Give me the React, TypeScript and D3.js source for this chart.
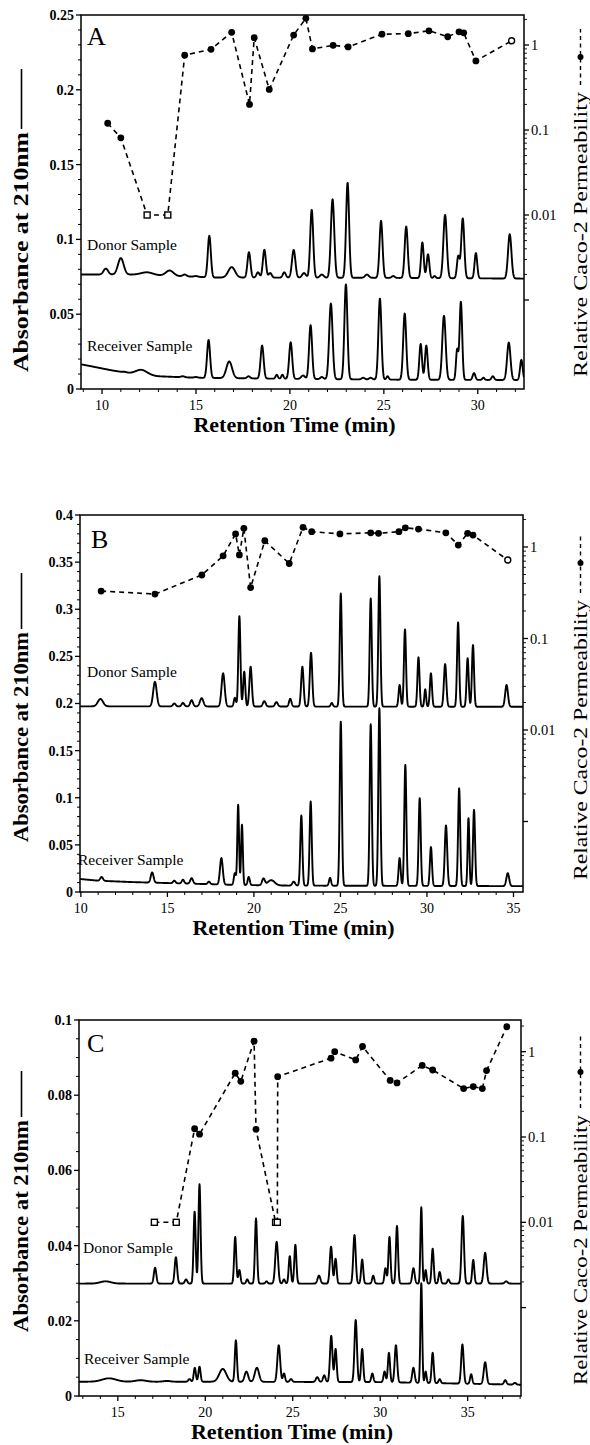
import React from "react";
import * as d3 from "d3";

type Pt = [number, number];
type Peak = [number, number, number]; // retention time, apex absorbance, width (min)

// ================= Panel A =================
const aDonorBase: Pt[] = [[8.88, 0.0765], [12, 0.0765], [16, 0.0745], [25, 0.0743], [32.46, 0.0738]];
const aDonorPeaks: Peak[] = [
  [10.2, 0.0805, 0.12], [11.0, 0.0875, 0.15], [12.4, 0.078, 0.3], [13.6, 0.0792, 0.2],
  [14.4, 0.0765, 0.1], [15.0, 0.0755, 0.1], [15.71, 0.1024, 0.08], [16.9, 0.0815, 0.18],
  [17.82, 0.0914, 0.08], [18.3, 0.078, 0.08], [18.64, 0.093, 0.08], [18.95, 0.0775, 0.08],
  [19.7, 0.078, 0.08], [20.2, 0.093, 0.09], [20.75, 0.0775, 0.1], [21.16, 0.1197, 0.08],
  [21.7, 0.0765, 0.1], [22.27, 0.1268, 0.09], [23.07, 0.1378, 0.08], [24.1, 0.0765, 0.1],
  [24.85, 0.1124, 0.08], [25.5, 0.0755, 0.08], [26.19, 0.1086, 0.08], [27.05, 0.098, 0.07],
  [27.35, 0.09, 0.07], [27.7, 0.0755, 0.06], [28.26, 0.1164, 0.09], [28.96, 0.0887, 0.07],
  [29.2, 0.114, 0.08], [29.9, 0.0909, 0.07], [31.7, 0.1035, 0.09],
];
const aRecvBase: Pt[] = [[8.88, 0.0165], [9.5, 0.015], [10.5, 0.0125], [11.5, 0.0105], [13, 0.0085], [15, 0.0075], [20, 0.0068], [26, 0.0062], [32.46, 0.006]];
const aRecvPeaks: Peak[] = [
  [11.2, 0.0115, 0.1], [12.1, 0.0128, 0.3], [14.3, 0.0085, 0.1], [15.0, 0.008, 0.1],
  [15.67, 0.0327, 0.08], [16.77, 0.0184, 0.15], [17.8, 0.0085, 0.08], [18.52, 0.029, 0.08],
  [19.3, 0.0095, 0.06], [19.6, 0.0095, 0.06], [20.04, 0.0312, 0.08], [20.7, 0.009, 0.1],
  [21.1, 0.0427, 0.08], [21.7, 0.008, 0.08], [22.18, 0.0571, 0.09], [22.98, 0.0699, 0.08],
  [23.9, 0.0075, 0.08], [24.3, 0.0075, 0.08], [24.79, 0.0604, 0.08], [25.2, 0.0085, 0.06],
  [26.11, 0.0504, 0.08], [26.96, 0.0301, 0.07], [27.26, 0.029, 0.07], [28.2, 0.0489, 0.09],
  [28.9, 0.026, 0.06], [29.1, 0.0582, 0.07], [29.8, 0.0106, 0.07], [30.3, 0.0075, 0.06],
  [30.8, 0.0085, 0.07], [31.65, 0.031, 0.09], [32.32, 0.0195, 0.07],
];
const aPermTime = [10.3, 11.0, 12.4, 13.5, 14.4, 15.8, 16.9, 17.85, 18.1, 18.9, 20.2, 20.85, 21.2, 22.3, 23.1, 24.9, 26.3, 27.4, 28.4, 29.0, 29.25, 29.9, 31.8];
const aPermValue = [0.12, 0.081, 0.01, 0.01, 0.76, 0.89, 1.41, 0.2, 1.22, 0.3, 1.31, 2.06, 0.9, 0.99, 0.95, 1.34, 1.36, 1.47, 1.25, 1.43, 1.39, 0.65, 1.12];
const aPermMark = ["f", "f", "s", "s", "f", "f", "f", "f", "f", "f", "f", "f", "f", "f", "f", "f", "f", "f", "f", "f", "f", "f", "o"];

// ================= Panel B =================
const bDonorBase: Pt[] = [[9.95, 0.197], [35.55, 0.1965]];
const bDonorPeaks: Peak[] = [
  [11.13, 0.2048, 0.15], [14.28, 0.223, 0.1], [15.4, 0.2, 0.08], [15.9, 0.2005, 0.08],
  [16.4, 0.2035, 0.08], [16.98, 0.2056, 0.1], [18.22, 0.232, 0.09], [18.9, 0.206, 0.06],
  [19.16, 0.2927, 0.06], [19.44, 0.2337, 0.06], [19.81, 0.239, 0.07], [20.6, 0.2025, 0.08],
  [21.3, 0.2015, 0.08], [22.1, 0.205, 0.07], [22.8, 0.239, 0.07], [23.3, 0.2538, 0.07],
  [24.5, 0.2005, 0.06], [25.02, 0.3167, 0.06], [26.75, 0.3114, 0.06], [27.25, 0.335, 0.06],
  [28.42, 0.2196, 0.06], [28.73, 0.2786, 0.06], [29.51, 0.249, 0.06], [29.9, 0.215, 0.05],
  [30.23, 0.232, 0.06], [31.05, 0.2418, 0.07], [31.8, 0.286, 0.06], [32.35, 0.248, 0.06],
  [32.66, 0.262, 0.06], [34.6, 0.2196, 0.08],
];
const bRecvBase: Pt[] = [[9.95, 0.0138], [11, 0.012], [13, 0.0105], [16, 0.009], [19, 0.0075], [22, 0.0068], [35.55, 0.0062]];
const bRecvPeaks: Peak[] = [
  [11.2, 0.0159, 0.08], [14.12, 0.0208, 0.08], [15.4, 0.012, 0.07], [15.9, 0.013, 0.07],
  [16.4, 0.0146, 0.08], [17.4, 0.011, 0.07], [18.12, 0.036, 0.08], [18.9, 0.02, 0.06],
  [19.09, 0.0925, 0.05], [19.31, 0.0713, 0.05], [19.7, 0.016, 0.06], [20.55, 0.014, 0.08],
  [21.0, 0.0125, 0.2], [22.3, 0.011, 0.08], [22.74, 0.0812, 0.06], [23.28, 0.096, 0.06],
  [24.4, 0.015, 0.06], [25.02, 0.1808, 0.06], [26.75, 0.178, 0.06], [27.25, 0.195, 0.06],
  [28.42, 0.036, 0.06], [28.75, 0.1349, 0.06], [29.58, 0.0996, 0.06], [30.23, 0.0477, 0.06],
  [31.1, 0.0706, 0.07], [31.86, 0.11, 0.06], [32.4, 0.0784, 0.05], [32.72, 0.0872, 0.06],
  [34.67, 0.02, 0.08],
];
const bPermTime = [11.17, 14.28, 16.99, 18.22, 18.94, 19.16, 19.42, 19.81, 20.63, 22.04, 22.84, 23.34, 24.97, 26.75, 27.2, 28.38, 28.75, 29.51, 31.09, 31.81, 32.35, 32.66, 34.67];
const bPermValue = [0.33, 0.306, 0.494, 0.8, 1.39, 0.82, 1.6, 0.36, 1.17, 0.66, 1.64, 1.47, 1.39, 1.43, 1.41, 1.47, 1.62, 1.57, 1.43, 1.05, 1.41, 1.35, 0.72];
const bPermMark = ["f", "f", "f", "f", "f", "f", "f", "f", "f", "f", "f", "f", "f", "f", "f", "f", "f", "f", "f", "f", "f", "f", "o"];

// ================= Panel C =================
const cDonorBase: Pt[] = [[12.78, 0.0299], [38.05, 0.0299]];
const cDonorPeaks: Peak[] = [
  [14.3, 0.0305, 0.3], [17.13, 0.0341, 0.07], [18.32, 0.0369, 0.07], [18.9, 0.031, 0.07],
  [19.39, 0.049, 0.06], [19.67, 0.0563, 0.06], [21.71, 0.0423, 0.06], [21.95, 0.0335, 0.06],
  [22.4, 0.031, 0.06], [22.9, 0.0472, 0.06], [23.5, 0.0305, 0.06], [24.08, 0.041, 0.08],
  [24.5, 0.031, 0.06], [24.83, 0.0372, 0.06], [25.15, 0.0402, 0.06], [26.5, 0.032, 0.08],
  [27.19, 0.0397, 0.07], [27.45, 0.0365, 0.06], [28.53, 0.0428, 0.07], [28.97, 0.0363, 0.06],
  [29.6, 0.032, 0.06], [30.3, 0.034, 0.06], [30.53, 0.0423, 0.06], [30.96, 0.0452, 0.06],
  [31.9, 0.034, 0.07], [32.35, 0.0502, 0.05], [32.6, 0.0335, 0.05], [33.0, 0.0392, 0.06],
  [33.4, 0.033, 0.06], [33.9, 0.031, 0.06], [34.72, 0.0479, 0.07], [35.32, 0.0362, 0.06],
  [36.0, 0.0381, 0.08], [37.2, 0.0305, 0.08],
];
const cRecvBase: Pt[] = [[12.78, 0.0038], [20, 0.0038], [30, 0.0037], [38.05, 0.003]];
const cRecvPeaks: Peak[] = [
  [14.5, 0.0047, 0.4], [16.3, 0.0042, 0.3], [17.8, 0.004, 0.2], [19.1, 0.0045, 0.07],
  [19.4, 0.0075, 0.06], [19.67, 0.0078, 0.06], [21.0, 0.0072, 0.2], [21.75, 0.0148, 0.06],
  [22.35, 0.0065, 0.1], [22.95, 0.0075, 0.12], [24.2, 0.0135, 0.08], [24.5, 0.006, 0.06],
  [24.9, 0.0045, 0.07], [26.4, 0.005, 0.08], [26.8, 0.0055, 0.07], [27.2, 0.016, 0.07],
  [27.45, 0.0125, 0.06], [28.6, 0.0202, 0.07], [28.97, 0.0125, 0.06], [29.55, 0.006, 0.06],
  [30.25, 0.0065, 0.06], [30.5, 0.0115, 0.06], [30.9, 0.0135, 0.07], [31.9, 0.0075, 0.07],
  [32.35, 0.03, 0.05], [32.6, 0.0065, 0.05], [33.0, 0.0115, 0.06], [33.4, 0.0045, 0.06],
  [34.7, 0.0137, 0.07], [35.2, 0.0058, 0.06], [36.0, 0.009, 0.08], [37.15, 0.0042, 0.07],
  [37.7, 0.0035, 0.07],
];
const cPermTime = [17.09, 18.34, 19.39, 19.67, 21.71, 22.03, 22.79, 22.9, 24.02, 24.12, 24.14, 27.19, 27.4, 28.6, 28.99, 30.57, 30.96, 32.4, 33.0, 34.77, 35.32, 35.84, 36.08, 37.24];
const cPermValue = [0.01, 0.01, 0.125, 0.108, 0.56, 0.45, 1.33, 0.123, 0.01, 0.01, 0.51, 0.84, 1.0, 0.8, 1.15, 0.46, 0.43, 0.69, 0.61, 0.37, 0.39, 0.37, 0.6, 1.96];
const cPermMark = ["s", "s", "f", "f", "f", "f", "f", "f", "s", "s", "f", "f", "f", "f", "f", "f", "f", "f", "f", "f", "f", "f", "f", "f"];

// ================= Axis ticks =================
const aYTicks = [0, 0.05, 0.1, 0.15, 0.2, 0.25];
const bYTicks = [0, 0.05, 0.1, 0.15, 0.2, 0.25, 0.3, 0.35, 0.4];
const cYTicks = [0, 0.02, 0.04, 0.06, 0.08, 0.1];
const aXTicks = [10, 15, 20, 25, 30];
const bXTicks = [10, 15, 20, 25, 30, 35];
const cXTicks = [15, 20, 25, 30, 35];
const permTickValues = [1, 0.1, 0.01];
const permTickLabels = ["1", "0.1", "0.01"];

const FONT = "'Liberation Serif', 'Times New Roman', serif";

function buildTrace(base: Pt[], peaks: Peak[], dom: [number, number]): Pt[] {
  const bs = d3.scaleLinear().domain(base.map((d) => d[0])).range(base.map((d) => d[1])).clamp(true);
  const ts = d3.range(dom[0], dom[1] + 1e-9, 0.01);
  return ts.map((t) => {
    let v = bs(t);
    for (const [c, h, w] of peaks) {
      const z = (t - c) / w;
      if (Math.abs(z) < 6) v += (h - bs(c)) * Math.exp(-0.5 * z * z);
    }
    return [t, v] as Pt;
  });
}

interface PanelCfg {
  id: string;
  letter: string;
  frame: { l: number; r: number; t: number; b: number };
  xDomain: [number, number];
  yDomain: [number, number];
  yTicks: number[];
  yMinor: number;
  xTicks: number[];
  logOne: number;
  logDecade: number;
  donorBase: Pt[]; donorPeaks: Peak[];
  recvBase: Pt[]; recvPeaks: Peak[];
  permT: number[]; permV: number[]; permM: string[];
  letterPos: [number, number];
  donorPos: [number, number];
  recvPos: [number, number];
  leftTitle: { bottom: number; len: number; line: number };
  rightTitle: { bottom: number; len: number; legend: number };
}

const panels: PanelCfg[] = [
  {
    id: "A", letter: "A",
    frame: { l: 81, r: 524, t: 15, b: 389 },
    xDomain: [8.88, 32.46], yDomain: [0, 0.25], yTicks: aYTicks, yMinor: 0.01, xTicks: aXTicks,
    logOne: 45, logDecade: 85,
    donorBase: aDonorBase, donorPeaks: aDonorPeaks, recvBase: aRecvBase, recvPeaks: aRecvPeaks,
    permT: aPermTime, permV: aPermValue, permM: aPermMark,
    letterPos: [87, 45], donorPos: [87, 250], recvPos: [87, 351],
    leftTitle: { bottom: 372, len: 240, line: 60 },
    rightTitle: { bottom: 377, len: 285, legend: 56 },
  },
  {
    id: "B", letter: "B",
    frame: { l: 80, r: 523, t: 515, b: 892 },
    xDomain: [9.95, 35.55], yDomain: [0, 0.4], yTicks: bYTicks, yMinor: 0.01, xTicks: bXTicks,
    logOne: 547, logDecade: 91.5,
    donorBase: bDonorBase, donorPeaks: bDonorPeaks, recvBase: bRecvBase, recvPeaks: bRecvPeaks,
    permT: bPermTime, permV: bPermValue, permM: bPermMark,
    letterPos: [91, 548], donorPos: [87, 677], recvPos: [78, 865],
    leftTitle: { bottom: 842, len: 210, line: 56 },
    rightTitle: { bottom: 880, len: 280, legend: 60 },
  },
  {
    id: "C", letter: "C",
    frame: { l: 79, r: 521, t: 1020, b: 1396 },
    xDomain: [12.78, 38.05], yDomain: [0, 0.1], yTicks: cYTicks, yMinor: 0.005, xTicks: cXTicks,
    logOne: 1051.7, logDecade: 85.3,
    donorBase: cDonorBase, donorPeaks: cDonorPeaks, recvBase: cRecvBase, recvPeaks: cRecvPeaks,
    permT: cPermTime, permV: cPermValue, permM: cPermMark,
    letterPos: [87, 1052], donorPos: [83, 1253], recvPos: [84, 1364],
    leftTitle: { bottom: 1332, len: 212, line: 46 },
    rightTitle: { bottom: 1385, len: 270, legend: 72 },
  },
];

const fmt = (v: number) => String(Math.round(v * 1000) / 1000);

function Panel({ p }: { p: PanelCfg }) {
  const { l, r, t, b } = p.frame;
  const x = d3.scaleLinear().domain(p.xDomain).range([l, r]);
  const y = d3.scaleLinear().domain(p.yDomain).range([b, t]);
  const logLo = Math.pow(10, (p.logOne - b) / p.logDecade);
  const logHi = Math.pow(10, (p.logOne - t) / p.logDecade);
  const yr = d3.scaleLog().domain([logLo, logHi]).range([b, t]);

  const line = d3.line<Pt>().x((d) => x(d[0])).y((d) => y(d[1]));
  const donor = buildTrace(p.donorBase, p.donorPeaks, p.xDomain);
  const recv = buildTrace(p.recvBase, p.recvPeaks, p.xDomain);

  const permPts: Pt[] = p.permT.map((tt, i) => [tt, p.permV[i]]);
  const permLine = d3.line<Pt>().x((d) => x(d[0])).y((d) => yr(d[1]));

  const yMinorTicks = d3.range(p.yDomain[0], p.yDomain[1] + 1e-9, p.yMinor).filter(
    (v) => !p.yTicks.some((m) => Math.abs(m - v) < 1e-6)
  );
  const xMinorTicks = d3.range(Math.ceil(p.xDomain[0]), p.xDomain[1] + 1e-9, 1).filter((v) => v % 5 !== 0);
  const logMinor: number[] = [];
  for (let e = -3; e <= 0; e++) {
    for (let m = 2; m <= 9; m++) {
      const v = m * Math.pow(10, e);
      if (v > logLo && v < logHi) logMinor.push(v);
    }
  }
  const logMajorTicks = [0.001, 0.01, 0.1, 1].filter((v) => v > logLo && v < logHi);

  const clipId = `clip${p.id}`;
  const lt = p.leftTitle;
  const rt = p.rightTitle;

  return (
    <g>
      <defs>
        <clipPath id={clipId}>
          <rect x={l} y={t - 20} width={r - l} height={b - t + 20} />
        </clipPath>
      </defs>
      <g clipPath={`url(#${clipId})`}>
        <path d={line(donor) || ""} fill="none" stroke="#000" strokeWidth={1.9} strokeLinejoin="round" />
        <path d={line(recv) || ""} fill="none" stroke="#000" strokeWidth={1.9} strokeLinejoin="round" />
      </g>
      <path d={permLine(permPts) || ""} fill="none" stroke="#000" strokeWidth={1.6} strokeDasharray="5,4" />
      {permPts.map((d, i) => {
        const cx = x(d[0]);
        const cy = yr(d[1]);
        const m = p.permM[i];
        if (m === "s")
          return <rect key={i} x={cx - 3} y={cy - 3} width={6} height={6} fill="#fff" stroke="#000" strokeWidth={1.4} />;
        if (m === "o")
          return <circle key={i} cx={cx} cy={cy} r={3} fill="#fff" stroke="#000" strokeWidth={1.4} />;
        return <circle key={i} cx={cx} cy={cy} r={3.4} fill="#000" />;
      })}
      <rect x={l} y={t} width={r - l} height={b - t} fill="none" stroke="#000" strokeWidth={1.5} />
      {p.yTicks.map((v) => (
        <g key={`ly${v}`}>
          <line x1={l - 5} x2={l} y1={y(v)} y2={y(v)} stroke="#000" strokeWidth={1.3} />
          <text x={l - 7} y={y(v)} dy="0.35em" textAnchor="end" fontSize={14} fontWeight="bold" fontFamily={FONT}>
            {fmt(v)}
          </text>
        </g>
      ))}
      {yMinorTicks.map((v) => (
        <line key={`lm${v}`} x1={l - 3} x2={l} y1={y(v)} y2={y(v)} stroke="#000" strokeWidth={1} />
      ))}
      {p.xTicks.map((v) => (
        <g key={`bx${v}`}>
          <line x1={x(v)} x2={x(v)} y1={b} y2={b + 5} stroke="#000" strokeWidth={1.3} />
          <text x={x(v)} y={b + 21} textAnchor="middle" fontSize={14} fontFamily={FONT}>
            {v}
          </text>
        </g>
      ))}
      {xMinorTicks.map((v) => (
        <line key={`bm${v}`} x1={x(v)} x2={x(v)} y1={b} y2={b + 3} stroke="#000" strokeWidth={1} />
      ))}
      {logMajorTicks.map((v) => (
        <line key={`rM${v}`} x1={r} x2={r + 5} y1={yr(v)} y2={yr(v)} stroke="#000" strokeWidth={1.3} />
      ))}
      {logMinor.map((v) => (
        <line key={`rm${v}`} x1={r} x2={r + 3} y1={yr(v)} y2={yr(v)} stroke="#000" strokeWidth={0.9} />
      ))}
      {permTickValues.map((v, i) => (
        <text key={`rl${v}`} x={r + 7} y={yr(v)} dy="0.35em" fontSize={14.5} fontFamily={FONT}>
          {permTickLabels[i]}
        </text>
      ))}
      <text x={p.letterPos[0]} y={p.letterPos[1]} fontSize={26} fontFamily={FONT}>
        {p.letter}
      </text>
      <text x={p.donorPos[0]} y={p.donorPos[1]} fontSize={15.5} fontFamily={FONT}>
        Donor Sample
      </text>
      <text x={p.recvPos[0]} y={p.recvPos[1]} fontSize={15.5} fontFamily={FONT}>
        Receiver Sample
      </text>
      <text x={(l + r) / 2 - 8} y={b + 43} textAnchor="middle" fontSize={22} fontWeight="bold" fontFamily={FONT}>
        Retention Time (min)
      </text>
      <g transform={`translate(28,${lt.bottom}) rotate(-90)`}>
        <text x={0} y={0} fontSize={21} fontWeight="bold" fontFamily={FONT} textLength={lt.len} lengthAdjust="spacingAndGlyphs">
          Absorbance at 210nm
        </text>
        <line x1={lt.len + 3} x2={lt.len + 3 + lt.line} y1={-6.5} y2={-6.5} stroke="#000" strokeWidth={1.6} />
      </g>
      <g transform={`translate(587,${rt.bottom}) rotate(-90)`}>
        <text x={0} y={0} fontSize={19} fontFamily={FONT} textLength={rt.len} lengthAdjust="spacingAndGlyphs">
          Relative Caco-2 Permeability
        </text>
        <line x1={rt.len + 7} x2={rt.len + 7 + rt.legend} y1={-6.5} y2={-6.5} stroke="#000" strokeWidth={1.4} strokeDasharray="4,3.5" />
        <circle cx={rt.len + 7 + rt.legend * 0.5} cy={-6.5} r={3} fill="#000" />
      </g>
    </g>
  );
}

export default function App() {
  return (
    <svg
      width={590}
      height={1445}
      viewBox="0 0 590 1445"
      style={{ position: "absolute", left: 0, top: 0, background: "#fff" }}
      xmlns="http://www.w3.org/2000/svg"
    >
      <rect x={0} y={0} width={590} height={1445} fill="#fff" />
      {panels.map((p) => (
        <Panel key={p.id} p={p} />
      ))}
    </svg>
  );
}
